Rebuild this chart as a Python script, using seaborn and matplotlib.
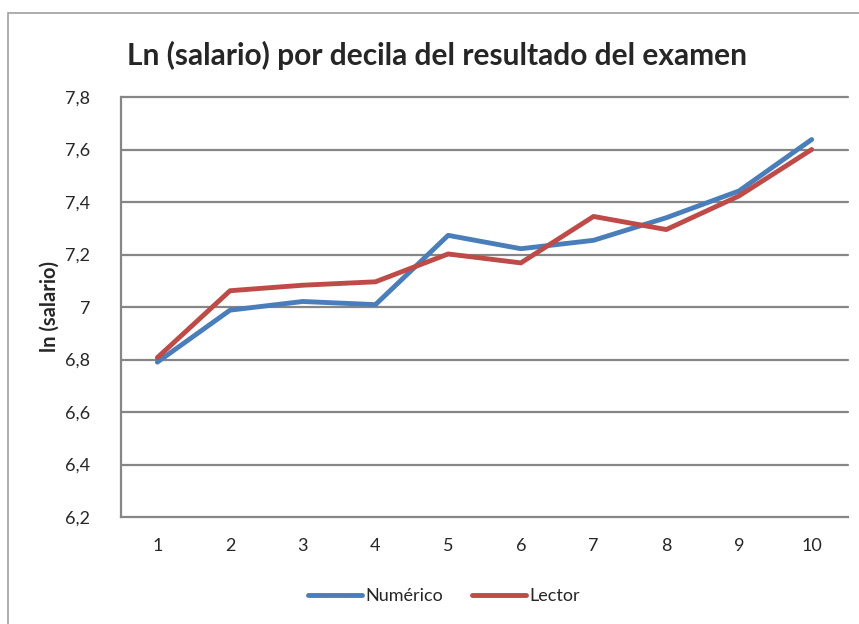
import numpy as np
import pandas as pd
import matplotlib
matplotlib.use("Agg")
import matplotlib.pyplot as plt
from matplotlib.patches import Rectangle
import seaborn as sns

deciles = [1, 2, 3, 4, 5, 6, 7, 8, 9, 10]
numerico = [6.79, 6.988, 7.021, 7.009, 7.273, 7.222, 7.254, 7.34, 7.442, 7.638]
lector = [6.807, 7.062, 7.083, 7.096, 7.202, 7.168, 7.345, 7.295, 7.423, 7.60]
y_ticks = [6.2, 6.4, 6.6, 6.8, 7.0, 7.2, 7.4, 7.6, 7.8]
y_labels = ["6,2", "6,4", "6,6", "6,8", "7", "7,2", "7,4", "7,6", "7,8"]

PALETTE = {"Numérico": "#4A7EBB", "Lector": "#BE4B48"}
GRID = "#868686"

df = pd.DataFrame({"decila": deciles * 2,
                   "valor": numerico + lector,
                   "serie": ["Numérico"] * 10 + ["Lector"] * 10})

sns.set_style("white")
plt.rcParams["font.family"] = ["Lato", "DejaVu Sans"]

W, H = 859, 624
fig = plt.figure(figsize=(W / 100, H / 100), dpi=100)
ax = fig.add_axes([121 / W, 1 - 517 / H, (848 - 121) / W, (517 - 97) / H])

# outer chart frame
fig.patches.append(Rectangle((8 / W, -0.05), 1.2, 1 - 13 / H + 0.05,
                             transform=fig.transFigure, fill=False,
                             edgecolor="#A0A0A0", lw=1.2))

for y in y_ticks[1:]:
    ax.axhline(y, color=GRID, lw=1.6, zorder=0, clip_on=False)

sns.lineplot(data=df, x="decila", y="valor", hue="serie", palette=PALETTE,
             lw=3.5, ax=ax, legend=False, zorder=3)

ax.set_xlim(0.5, 10.5)
ax.set_ylim(6.2, 7.8)
ax.set_xticks(deciles)
ax.set_xticklabels([str(d) for d in deciles], fontsize=13)
ax.set_yticks(y_ticks)
ax.set_yticklabels(y_labels, fontsize=13)
ax.tick_params(axis="both", length=0)
ax.tick_params(axis="x", pad=15)
ax.tick_params(axis="y", pad=22)
ax.set_xlabel("")
ax.set_ylabel("ln (salario)", fontsize=14.5, fontweight="bold", labelpad=4)

for s in ["top", "right"]:
    ax.spines[s].set_visible(False)
for s in ["left", "bottom"]:
    ax.spines[s].set_color(GRID)
    ax.spines[s].set_linewidth(1.6)

fig.text(437 / W, 1 - 55 / H, "Ln (salario) por decila del resultado del examen",
         ha="center", va="center", fontsize=21.5, fontweight="bold")

handles = [plt.Line2D([], [], color=PALETTE[k], lw=3.5) for k in ["Numérico", "Lector"]]
fig.legend(handles, ["Numérico", "Lector"], loc="center",
           bbox_to_anchor=(444 / W, 1 - 596 / H), ncol=2, frameon=False,
           fontsize=13, handlelength=3.0, handletextpad=0.2, columnspacing=1.6)

fig.savefig("out.png", dpi=100)
